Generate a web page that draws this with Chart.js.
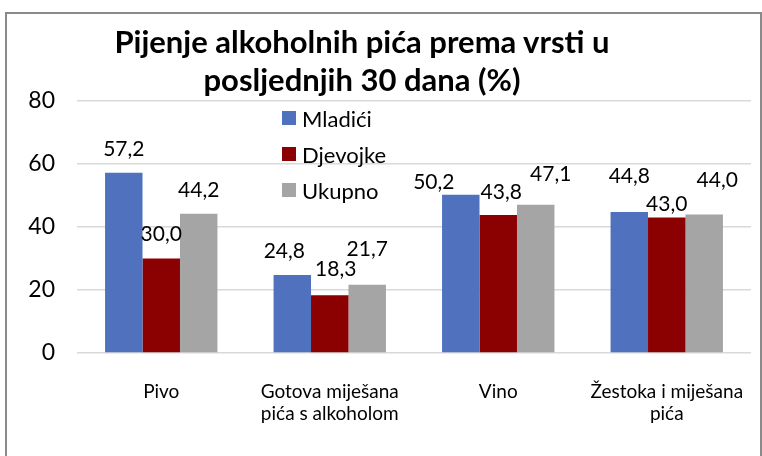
<!DOCTYPE html>
<html>
<head>
<meta charset="utf-8">
<script src="https://cdn.jsdelivr.net/npm/chart.js@4"></script>
<style>
  html, body { margin: 0; padding: 0; background: #fff; }
  #wrap { position: relative; width: 762px; height: 456px; overflow: hidden; }
  #okvir { position: absolute; left: 5px; top: 12px; width: 757px; height: 470px;
           border: 2px solid #8a8a8a; box-sizing: border-box; }
  #naslov { position: absolute; left: 62px; top: 22px; width: 600px; text-align: center;
            font: bold 31px Lato, sans-serif; line-height: 38px; color: #000; }
  #legenda { position: absolute; left: 282px; top: 100px; font: 22px Lato, sans-serif; color: #000; }
  #legenda div { height: 36px; display: flex; align-items: center; }
  #legenda span.kv { display: inline-block; width: 14px; height: 14px; margin-right: 6px; }
  canvas { position: absolute; left: 0; top: 0; }
</style>
</head>
<body>
<div id="wrap">
  <div id="okvir"></div>
  <canvas id="grafikon" width="762" height="456"></canvas>
  <div id="naslov">Pijenje alkoholnih pića prema vrsti u<br>posljednjih 30 dana (%)</div>
  <div id="legenda"></div>
</div>
<script>
// --- PODACI ---
const kategorije = [
    'Pivo',
    ['Gotova miješana', 'pića s alkoholom'],
    'Vino',
    ['Žestoka i miješana', 'pića']
];
const mladici = [57.2, 24.8, 50.2, 44.8];
const djevojke = [30.0, 18.3, 43.8, 43.0];
const ukupno = [44.2, 21.7, 47.1, 44.0];
const yOznake = [0, 20, 40, 60, 80];

// --- STIL ---
const boje = { mladici: '#4F71BE', djevojke: '#8B0000', ukupno: '#A5A5A5' };

// pomak oznaka vrijednosti [dx, dy] u odnosu na vrh stupca (ručno namješteno kao u Excelu)
const pomakOznaka = [
    [[0, -24], [-8, -24], [-27, -13], [0, -36]],
    [[0, -24], [6, -26], [3, -23], [0, -13]],
    [[0, -24], [0, -35], [15, -30], [13, -34]]
];

const oznakeVrijednosti = {
    id: 'oznakeVrijednosti',
    afterDatasetsDraw(chart) {
        const ctx = chart.ctx;
        ctx.save();
        ctx.font = '21px Lato, sans-serif';
        ctx.fillStyle = '#000';
        ctx.textAlign = 'center';
        ctx.textBaseline = 'middle';
        chart.data.datasets.forEach((ds, i) => {
            chart.getDatasetMeta(i).data.forEach((bar, j) => {
                const [dx, dy] = pomakOznaka[i][j];
                ctx.fillText(ds.data[j].toFixed(1).replace('.', ','), bar.x + dx, bar.y + dy);
            });
        });
        ctx.restore();
    }
};

const grafikon = new Chart(document.getElementById('grafikon'), {
    type: 'bar',
    data: {
        labels: kategorije,
        datasets: [
            { label: 'Mladići', data: mladici, backgroundColor: boje.mladici },
            { label: 'Djevojke', data: djevojke, backgroundColor: boje.djevojke },
            { label: 'Ukupno', data: ukupno, backgroundColor: boje.ukupno }
        ]
    },
    options: {
        responsive: false,
        animation: false,
        layout: { padding: { left: 0, right: 11, top: 101, bottom: 0 } },
        plugins: {
            legend: { display: false },
            title: { display: false },
            tooltip: { enabled: false }
        },
        datasets: { bar: { categoryPercentage: 0.667, barPercentage: 1 } },
        scales: {
            x: {
                grid: { display: false, drawTicks: false },
                border: { display: false },
                ticks: { color: '#000', font: { family: 'Lato', size: 19, lineHeight: 1.15 }, padding: 28, maxRotation: 0, autoSkip: false },
                afterFit: s => {
                    s.height = 103;
                    // oznake smiju prelaziti rub, ne smanjuj područje grafikona
                    s.paddingLeft = 0;
                    s.paddingRight = 0;
                }
            },
            y: {
                min: 0,
                max: 80,
                afterBuildTicks: s => { s.ticks = yOznake.map(v => ({ value: v })); },
                grid: { color: '#d9d9d9', lineWidth: 1.5, drawTicks: false },
                border: { display: false },
                ticks: { color: '#000', font: { family: 'Lato', size: 23 }, padding: 22 },
                afterFit: s => { s.width = 77; }
            }
        }
    },
    plugins: [oznakeVrijednosti]
});

// legenda unutar područja grafikona
document.getElementById('legenda').innerHTML = grafikon.data.datasets.map(ds =>
    `<div><span class="kv" style="background:${ds.backgroundColor}"></span>${ds.label}</div>`
).join('');
</script>
</body>
</html>
